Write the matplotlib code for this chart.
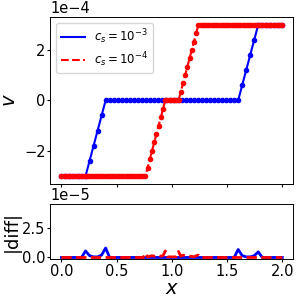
import matplotlib.pyplot as plt
import numpy as np

# grids: coarse for c_s=1e-3, fine for c_s=1e-4
x_coarse = np.linspace(0, 2, 56)
x_fine = np.linspace(0, 2, 101)

# v values (in units of 1e-4)
v_coarse = ([-3.0] * 7 + [-2.4, -1.8, -1.2, -0.6] + [0.0] * 34
            + [0.6, 1.2, 1.8, 2.4] + [3.0] * 7)
v_fine = ([-3.0] * 39
          + [-2.67, -2.33, -2.0, -1.67, -1.33, -1.0, -0.67, -0.33]
          + [0.0] * 7
          + [0.33, 0.67, 1.0, 1.33, 1.67, 2.0, 2.33, 2.67]
          + [3.0] * 39)

# |diff| values (in units of 1e-5)
diff_coarse = ([0.0] * 6 + [0.55, 0.15, 0.05, 0.05, 0.2, 0.8] + [0.0] * 32
               + [0.67, 0.15, 0.05, 0.05, 0.15, 0.47] + [0.0] * 6)
diff_fine = ([0.0] * 38 + [0.35]
             + [0.05, 0.1, 0.15, 0.1, 0.15, 0.2, 0.1, 0.15]
             + [0.55] + [0.05] * 5 + [0.5]
             + [0.1, 0.2, 0.15, 0.15, 0.1, 0.1, 0.05, 0.15, 0.2]
             + [0.0] * 38)

labels = [r'$c_s=10^{-3}$', r'$c_s=10^{-4}$']

v_coarse = np.array(v_coarse) * 1e-4
v_fine = np.array(v_fine) * 1e-4
diff_coarse = np.array(diff_coarse) * 1e-5
diff_fine = np.array(diff_fine) * 1e-5

plt.rcParams['font.size'] = 10.5
plt.rcParams['xtick.major.size'] = 2.0
plt.rcParams['ytick.major.size'] = 2.0
plt.rcParams['xtick.major.pad'] = 2.0
plt.rcParams['ytick.major.pad'] = 1.5
plt.rcParams['axes.linewidth'] = 0.7

fig = plt.figure(figsize=(3, 3), dpi=100)
ax1 = fig.add_axes([0.168, 0.388, 0.810, 0.555])
ax2 = fig.add_axes([0.168, 0.137, 0.810, 0.183], sharex=ax1)

ax1.plot(x_coarse, v_coarse, '-', color='blue', lw=1.5, label=labels[0])
ax1.plot(x_coarse, v_coarse, 'o', color='blue', ms=3)
ax1.plot(x_fine, v_fine, '--', color='red', lw=1.5, label=labels[1])
ax1.plot(x_fine, v_fine, 'o', color='red', ms=3)
ax1.set_ylabel(r'$v$', fontsize=14)
ax1.yaxis.set_label_coords(-0.13, 0.5)
ax1.ticklabel_format(axis='y', style='sci', scilimits=(0, 0))
ax1.legend(loc='upper left', fontsize=8.5, labelspacing=0.3,
           handlelength=2.0, borderpad=0.4)
ax1.tick_params(labelbottom=False)

ax2.plot(x_coarse, diff_coarse, '-', color='blue', lw=2)
ax2.plot(x_fine, diff_fine, '--', color='red', lw=2)
ax2.set_ylim(-0.12e-5, 4.5e-5)
ax2.set_yticks([0, 2.5e-5])
ax2.ticklabel_format(axis='y', style='sci', scilimits=(0, 0))
ax2.set_ylabel('|diff|', fontsize=13)
ax2.yaxis.set_label_coords(-0.12, 0.5)
ax2.set_xlabel(r'$x$', fontsize=14, labelpad=0)
ax2.set_xticks([0.0, 0.5, 1.0, 1.5, 2.0])

fig.savefig('out.png', dpi=100)
